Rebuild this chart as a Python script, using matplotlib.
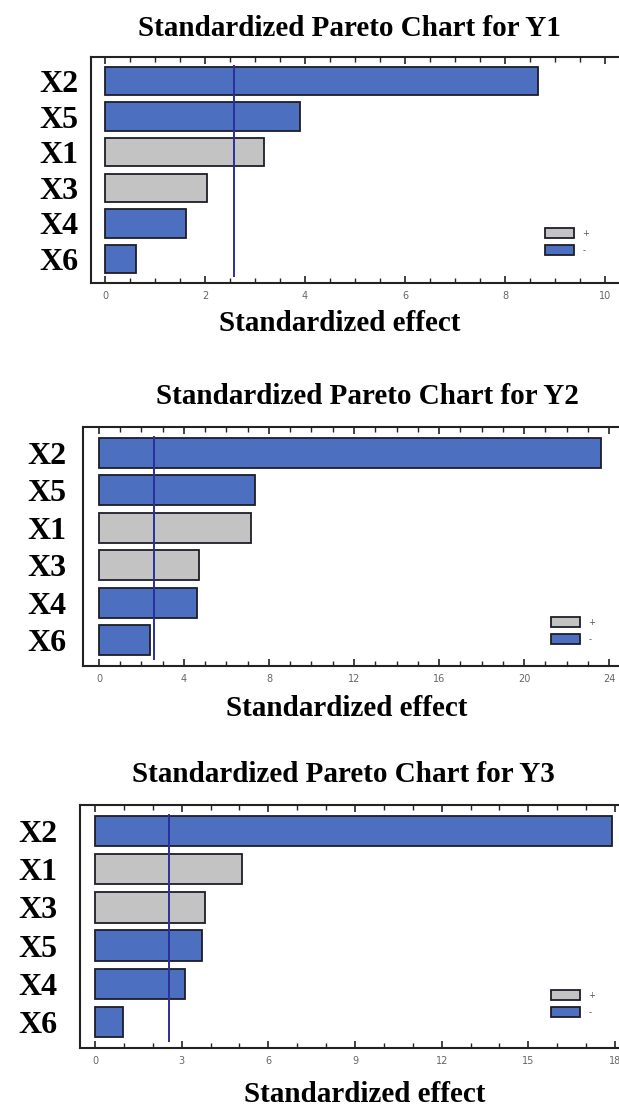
#!/usr/bin/env python3
"""
Standardized Pareto charts of the factor effects on the responses Y1, Y2 and Y3.
Bars are coloured by the sign of the effect; the vertical line marks the
critical t value.
"""

import matplotlib
matplotlib.use("Agg")
import matplotlib.pyplot as plt
from matplotlib.patches import Patch
from matplotlib.ticker import MultipleLocator

# Response Y1
factors_y1 = ['X2', 'X5', 'X1', 'X3', 'X4', 'X6']
effects_y1 = [8.66, 3.89, 3.18, 2.04, 1.62, 0.61]
signs_y1 = ['-', '-', '+', '+', '-', '-']

# Response Y2
factors_y2 = ['X2', 'X5', 'X1', 'X3', 'X4', 'X6']
effects_y2 = [23.6, 7.36, 7.17, 4.72, 4.61, 2.42]
signs_y2 = ['-', '-', '+', '+', '-', '-']

# Response Y3
factors_y3 = ['X2', 'X1', 'X3', 'X5', 'X4', 'X6']
effects_y3 = [17.9, 5.09, 3.79, 3.72, 3.13, 0.97]
signs_y3 = ['-', '+', '+', '-', '-', '-']

t_critical = 2.57

BLUE = '#4C6FBF'
GREY = '#C3C3C3'
EDGE = '#1E1E2A'
LINE = '#2E2E9E'
SERIF = 'Liberation Serif'

W, H = 619, 1108  # figure size in pixels


def px_axes(fig, left, top, right, bottom):
    """Add axes using pixel coordinates measured from the top-left corner."""
    return fig.add_axes([left / W, 1 - bottom / H, (right - left) / W, (bottom - top) / H])


def pareto(fig, box, factors, effects, signs, xlim, major, minor, ylabel_pad,
           title, title_xy, xlabel_xy, legend_xy):
    ax = px_axes(fig, *box)
    colors = [GREY if s == '+' else BLUE for s in signs]
    ypos = list(range(len(factors)))
    ax.barh(ypos, effects, height=0.8, color=colors, edgecolor=EDGE, linewidth=1.3)
    ax.vlines(t_critical, -0.45, len(factors) - 0.48, color=LINE, linewidth=1.4)

    ax.set_xlim(*xlim)
    ax.set_ylim(len(factors) - 0.32, -0.68)
    ax.set_yticks(ypos)
    ax.set_yticklabels(factors, fontfamily=SERIF, fontweight='bold', fontsize=23)
    ax.tick_params(axis='y', length=0, pad=ylabel_pad)

    ax.xaxis.set_major_locator(MultipleLocator(major))
    ax.xaxis.set_minor_locator(MultipleLocator(minor))
    ax.tick_params(axis='x', which='both', direction='in', top=True, bottom=True,
                   labelsize=7, labelcolor='#666666', color='#222222', pad=6)
    ax.tick_params(axis='x', which='major', length=5, width=1.2)
    ax.tick_params(axis='x', which='minor', length=3.5, width=1.0)
    for spine in ax.spines.values():
        spine.set_linewidth(1.5)
        spine.set_color('#222222')

    fig.text(title_xy[0] / W, 1 - title_xy[1] / H, title, ha='center', va='center',
             fontfamily=SERIF, fontweight='bold', fontsize=21)
    fig.text(xlabel_xy[0] / W, 1 - xlabel_xy[1] / H, 'Standardized effect',
             ha='center', va='center', fontfamily=SERIF, fontweight='bold', fontsize=21)

    handles = [Patch(facecolor=GREY, edgecolor=EDGE, linewidth=1.3, label='+'),
               Patch(facecolor=BLUE, edgecolor=EDGE, linewidth=1.3, label='-')]
    ax.legend(handles=handles, loc='upper left',
              bbox_to_anchor=(legend_xy[0] / W, 1 - legend_xy[1] / H),
              bbox_transform=fig.transFigure, frameon=False, fontsize=6,
              labelcolor='#555555', handlelength=3.5, handleheight=1.4,
              labelspacing=0.9, handletextpad=1.0, borderpad=0, borderaxespad=0)
    return ax


def main():
    fig = plt.figure(figsize=(W / 100, H / 100), dpi=100)

    # the right-hand frame of each panel runs just past the edge of the figure
    pareto(fig, (91, 57, 622, 283), factors_y1, effects_y1, signs_y1,
           xlim=(-0.28, 10.34), major=2, minor=0.5, ylabel_pad=9,
           title='Standardized Pareto Chart for Y1', title_xy=(349, 28),
           xlabel_xy=(340, 324), legend_xy=(545, 228))
    pareto(fig, (83, 427, 625, 666), factors_y2, effects_y2, signs_y2,
           xlim=(-0.75, 24.75), major=4, minor=1, ylabel_pad=12,
           title='Standardized Pareto Chart for Y2', title_xy=(367, 397),
           xlabel_xy=(347, 708), legend_xy=(551, 617))
    pareto(fig, (80, 805, 630, 1048), factors_y3, effects_y3, signs_y3,
           xlim=(-0.52, 18.52), major=3, minor=1, ylabel_pad=16,
           title='Standardized Pareto Chart for Y3', title_xy=(343, 775),
           xlabel_xy=(365, 1094), legend_xy=(551, 990))

    fig.savefig('out.png', dpi=100)
    print('Saved: out.png')


if __name__ == '__main__':
    main()
